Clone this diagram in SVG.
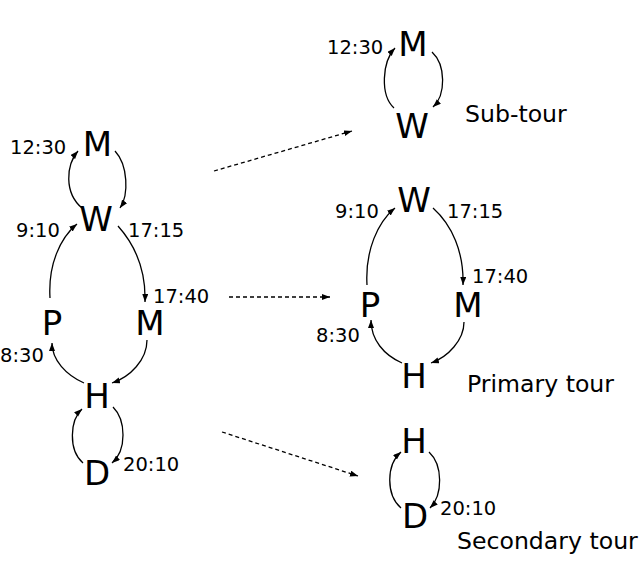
<svg xmlns="http://www.w3.org/2000/svg" width="640" height="585" viewBox="0 0 640 585">
<style>
.n{font-family:"DejaVu Sans","Liberation Sans",sans-serif;font-size:34px;fill:#000;text-anchor:middle}
.t{font-family:"DejaVu Sans","Liberation Sans",sans-serif;font-size:19.5px;fill:#000}
.l{font-family:"DejaVu Sans","Liberation Sans",sans-serif;font-size:23.6px;fill:#000}
.e{fill:none;stroke:#000;stroke-width:1.3;marker-end:url(#ah)}
.d{fill:none;stroke:#000;stroke-width:1.3;stroke-dasharray:4 3;marker-end:url(#ah)}
</style>
<defs>
<marker id="ah" markerUnits="userSpaceOnUse" markerWidth="9" markerHeight="7" refX="8" refY="3" orient="auto">
<path d="M0,0 L8,3 L0,6 z" fill="#000"/>
</marker>
</defs>
<rect width="640" height="585" fill="#fff"/>
<g id="connectors">
<path class="e" d="M115,151 C128,165 129,195 120,208"/>
<path class="e" d="M82,208 C64,193 66,165 78,151"/>
<path class="e" d="M50,298 C48,265 60,238 77,224"/>
<path class="e" d="M118,226 C135,245 146,270 145,302"/>
<path class="e" d="M147,340 C147,360 130,377 112,383"/>
<path class="e" d="M84,383 C66,375 52,360 52,343"/>
<path class="e" d="M113,407 C126,420 127,450 112,463"/>
<path class="e" d="M83,463 C68,450 70,420 82,409"/>
<path class="e" d="M432,52 C446,65 446,95 433,107"/>
<path class="e" d="M394,108 C380,95 382,62 395,48"/>
<path class="e" d="M367,285 C365,250 378,222 395,208"/>
<path class="e" d="M433,208 C452,225 464,252 463,285"/>
<path class="e" d="M464,322 C464,340 448,357 431,363"/>
<path class="e" d="M402,363 C384,355 371,340 371,320"/>
<path class="e" d="M429,452 C443,465 443,495 430,508"/>
<path class="e" d="M401,508 C386,495 386,465 401,452"/>
<path class="d" d="M214,171 L352,131"/>
<path class="d" d="M229,297 L330,297"/>
<path class="d" d="M222,432 L358,476"/>
</g>
<g id="left-M1"><text class="n" x="97.5" y="156">M</text></g>
<g id="left-W"><text class="n" x="96" y="231">W</text></g>
<g id="left-P"><text class="n" x="52" y="335">P</text></g>
<g id="left-M2"><text class="n" x="150" y="335">M</text></g>
<g id="left-H"><text class="n" x="97" y="408">H</text></g>
<g id="left-D"><text class="n" x="97" y="485">D</text></g>
<g id="left-labels">
<text class="t" x="10" y="154">12:30</text>
<text class="t" x="16" y="237">9:10</text>
<text class="t" x="128" y="237">17:15</text>
<text class="t" x="153" y="303">17:40</text>
<text class="t" x="0" y="362">8:30</text>
<text class="t" x="123" y="471">20:10</text>
</g>
<g id="sub-M"><text class="n" x="413" y="56">M</text></g>
<g id="sub-W"><text class="n" x="412" y="138">W</text></g>
<g id="sub-labels">
<text class="t" x="327" y="54">12:30</text>
<text class="l" x="465" y="122">Sub-tour</text>
</g>
<g id="pri-W"><text class="n" x="414" y="212">W</text></g>
<g id="pri-P"><text class="n" x="370" y="317">P</text></g>
<g id="pri-M"><text class="n" x="468" y="317">M</text></g>
<g id="pri-H"><text class="n" x="414" y="388">H</text></g>
<g id="pri-labels">
<text class="t" x="335" y="218">9:10</text>
<text class="t" x="447" y="218">17:15</text>
<text class="t" x="472" y="283">17:40</text>
<text class="t" x="316" y="342">8:30</text>
<text class="l" x="467" y="392">Primary tour</text>
</g>
<g id="sec-H"><text class="n" x="414" y="453">H</text></g>
<g id="sec-D"><text class="n" x="415" y="528">D</text></g>
<g id="sec-labels">
<text class="t" x="440" y="515">20:10</text>
<text class="l" x="457" y="549">Secondary tour</text>
</g>
</svg>
